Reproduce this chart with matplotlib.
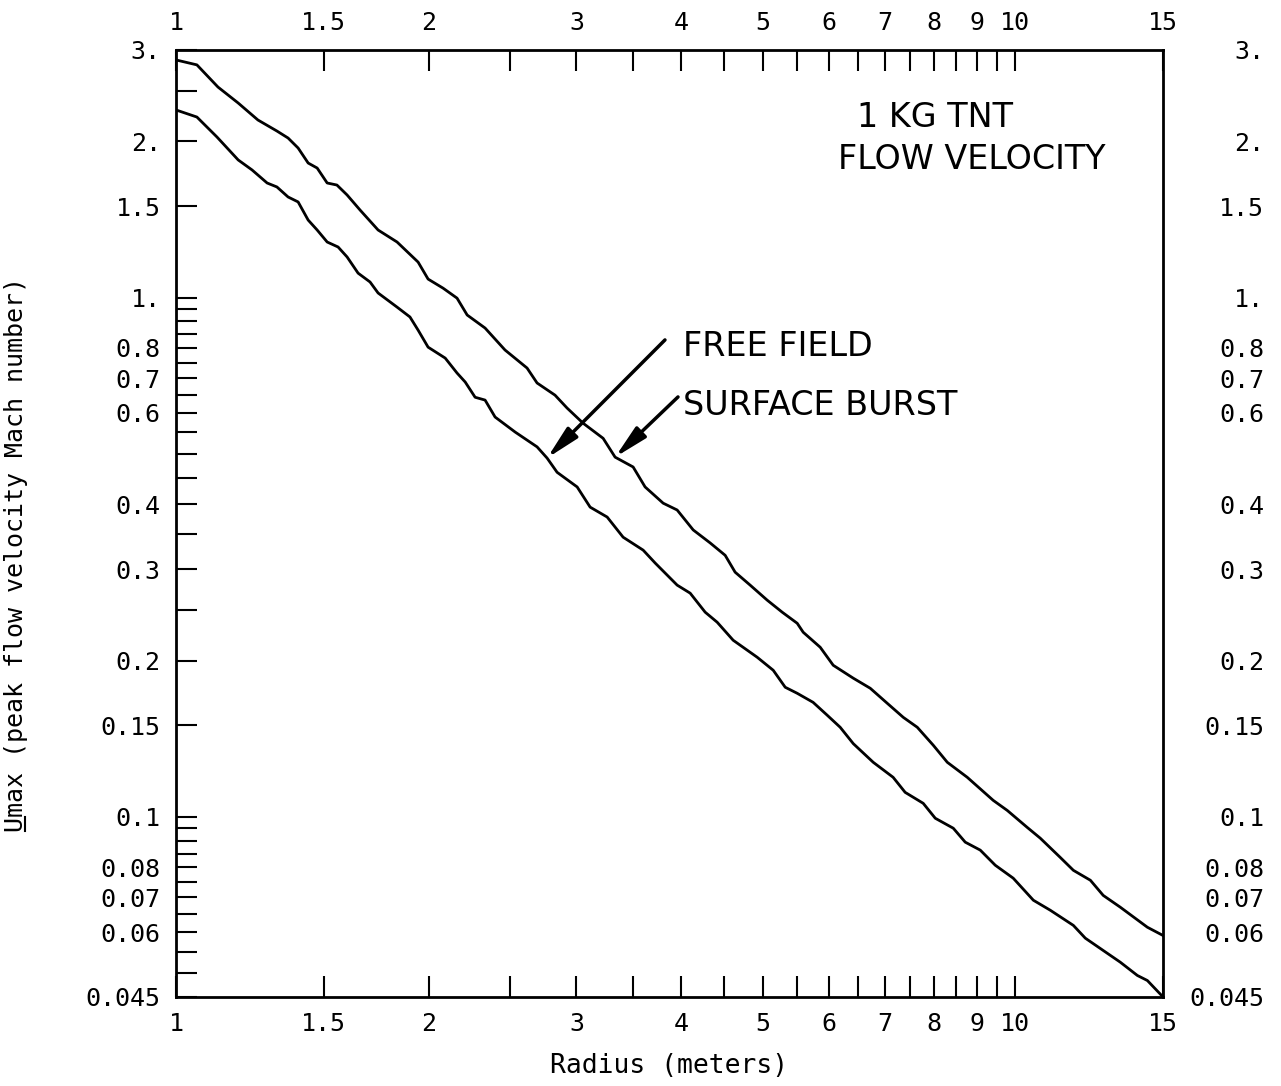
import matplotlib

matplotlib.use("Agg", force=True)
import matplotlib.pyplot as plt
import numpy as np
from matplotlib.lines import Line2D
from matplotlib.ticker import FixedFormatter, FixedLocator, NullLocator

# surface burst (upper curve)
radius_sb = [1.00, 1.059, 1.122, 1.186, 1.252, 1.319, 1.360, 1.398, 1.437, 1.473, 1.514, 1.555,
             1.599, 1.657, 1.741, 1.834, 1.943, 1.997, 2.081, 2.162, 2.223, 2.335, 2.466, 2.620,
             2.693, 2.829, 2.924, 3.056, 3.228, 3.336, 3.505, 3.622, 3.806, 3.955, 4.133, 4.330,
             4.512, 4.637, 4.832, 5.063, 5.276, 5.498, 5.589, 5.856, 6.069, 6.412, 6.718, 7.039,
             7.355, 7.643, 7.986, 8.299, 8.766, 9.414, 9.784, 10.33, 10.71, 11.31, 11.73, 12.29,
             12.73, 13.34, 14.37, 15.0]
umax_sb = [2.87, 2.808, 2.545, 2.371, 2.199, 2.094, 2.030, 1.942, 1.817, 1.777, 1.663, 1.648,
           1.577, 1.475, 1.350, 1.280, 1.171, 1.086, 1.043, 0.998, 0.926, 0.874, 0.793, 0.732,
           0.685, 0.649, 0.613, 0.573, 0.536, 0.493, 0.472, 0.432, 0.402, 0.390, 0.357, 0.337,
           0.319, 0.296, 0.2795, 0.2615, 0.2479, 0.2360, 0.2268, 0.2122, 0.1959, 0.1850, 0.1769,
           0.1655, 0.1555, 0.1488, 0.1374, 0.1274, 0.1192, 0.1076, 0.1029, 0.0955, 0.0910, 0.0836,
           0.0789, 0.0755, 0.0706, 0.0670, 0.0613, 0.0591]

# free field (lower curve)
radius_ff = [1.00, 1.059, 1.119, 1.186, 1.232, 1.284, 1.319, 1.360, 1.398, 1.437, 1.473, 1.514,
             1.560, 1.599, 1.648, 1.703, 1.741, 1.834, 1.900, 1.943, 1.997, 2.093, 2.162, 2.211,
             2.272, 2.335, 2.400, 2.536, 2.693, 2.768, 2.845, 3.006, 3.115, 3.264, 3.410, 3.603,
             3.724, 3.955, 4.099, 4.271, 4.414, 4.612, 4.926, 5.148, 5.320, 5.498, 5.743, 5.969,
             6.186, 6.412, 6.773, 7.153, 7.393, 7.769, 8.030, 8.437, 8.718, 9.085, 9.467, 9.945,
             10.51, 11.01, 11.73, 12.12, 12.73, 13.34, 13.98, 14.37, 15.0]
umax_ff = [2.299, 2.228, 2.039, 1.842, 1.762, 1.663, 1.634, 1.563, 1.529, 1.411, 1.350, 1.280,
           1.252, 1.198, 1.115, 1.072, 1.021, 0.959, 0.918, 0.866, 0.803, 0.765, 0.716, 0.688,
           0.643, 0.635, 0.589, 0.551, 0.516, 0.491, 0.461, 0.432, 0.395, 0.378, 0.3457, 0.3264,
           0.3082, 0.2795, 0.2697, 0.2479, 0.2371, 0.2189, 0.2030, 0.1916, 0.1777, 0.1730, 0.1662,
           0.1570, 0.1488, 0.1384, 0.1274, 0.1192, 0.1115, 0.1062, 0.0994, 0.0951, 0.0894, 0.0863,
           0.0807, 0.0762, 0.0691, 0.0661, 0.0618, 0.0584, 0.0553, 0.0525, 0.0495, 0.0484, 0.045]

x_ticks = [1.0, 1.5, 2.0, 2.5, 3.0, 3.5, 4.0, 4.5, 5.0, 5.5, 6.0, 6.5, 7.0, 7.5, 8.0, 8.5,
           9.0, 9.5, 10.0, 15.0]
x_labels = {1.0: "1", 1.5: "1.5", 2.0: "2", 3.0: "3", 4.0: "4", 5.0: "5", 6.0: "6",
            7.0: "7", 8.0: "8", 9.0: "9", 10.0: "10", 15.0: "15"}
y_ticks = ([round(v, 3) for v in np.arange(0.045, 0.1001, 0.005)]
           + [round(v, 2) for v in np.arange(0.15, 1.0001, 0.05)]
           + [1.5, 2.0, 2.5, 3.0])
y_labels = {3.0: "3.", 2.0: "2.", 1.5: "1.5", 1.0: "1.", 0.8: "0.8", 0.7: "0.7", 0.6: "0.6",
            0.4: "0.4", 0.3: "0.3", 0.2: "0.2", 0.15: "0.15", 0.1: "0.1", 0.08: "0.08",
            0.07: "0.07", 0.06: "0.06", 0.045: "0.045"}

MONO = "DejaVu Sans Mono"
TICK_SIZE = 18

fig = plt.figure(figsize=(12.81, 10.86), dpi=100)
ax = fig.add_axes([0.1374, 0.0820, 0.7705, 0.8720])
ax.set_xscale("log")
ax.set_yscale("log")

ax.plot(radius_sb, umax_sb, color="black", lw=2.0, solid_joinstyle="round")
ax.plot(radius_ff, umax_ff, color="black", lw=2.0, solid_joinstyle="round")

ax.set_xlim(1.0, 15.0)
ax.set_ylim(0.045, 3.0)

for spine in ax.spines.values():
    spine.set_linewidth(2.0)

ax.xaxis.set_major_locator(FixedLocator(x_ticks))
ax.xaxis.set_major_formatter(FixedFormatter([x_labels.get(t, "") for t in x_ticks]))
ax.xaxis.set_minor_locator(NullLocator())
ax.yaxis.set_major_locator(FixedLocator(y_ticks))
ax.yaxis.set_major_formatter(FixedFormatter([y_labels.get(t, "") for t in y_ticks]))
ax.yaxis.set_minor_locator(NullLocator())

ax.tick_params(axis="both", which="major", direction="in", length=15, width=1.5,
               top=True, right=True, labeltop=True, labelbottom=True, labelsize=TICK_SIZE)
ax.tick_params(axis="x", pad=11)
ax.tick_params(axis="y", pad=11)
for lab in ax.get_xticklabels() + ax.get_yticklabels():
    lab.set_family(MONO)

# right side labels, right aligned like the original plotter output
ax_r = ax.twinx()
ax_r.set_yscale("log")
ax_r.set_ylim(ax.get_ylim())
ax_r.yaxis.set_major_locator(FixedLocator(y_ticks))
ax_r.yaxis.set_major_formatter(FixedFormatter([y_labels.get(t, "") for t in y_ticks]))
ax_r.yaxis.set_minor_locator(NullLocator())
ax_r.tick_params(axis="y", which="major", direction="in", length=0, pad=73,
                 labelsize=TICK_SIZE)
for lab in ax_r.get_yticklabels():
    lab.set_family(MONO)
    lab.set_horizontalalignment("right")
for spine in ax_r.spines.values():
    spine.set_visible(False)

ax.set_xlabel("Radius (meters)", family=MONO, fontsize=19, labelpad=12)
ylab_size = 18
ylab = ax.set_ylabel("Umax (peak flow velocity Mach number)", family=MONO, fontsize=ylab_size)
ax.yaxis.set_label_coords(-0.150, 0.467)

# annotations
note_kw = dict(transform=ax.transAxes, va="center", fontsize=24)
ax.text(0.769, 0.929, "1 KG TNT", ha="center", **note_kw)
ax.text(0.806, 0.884, "FLOW VELOCITY", ha="center", **note_kw)
ax.text(0.514, 0.687, "FREE FIELD", ha="left", **note_kw)
ax.text(0.514, 0.625, "SURFACE BURST", ha="left", **note_kw)

arrow = dict(arrowstyle="-|>,head_length=1.0,head_width=0.22", color="black", lw=2.5,
             shrinkA=0, shrinkB=0, mutation_scale=20)
ax.annotate("", xy=(radius_ff[29], umax_ff[29]), xycoords="data",
            xytext=(0.4954, 0.6938), textcoords="axes fraction", arrowprops=arrow)
ax.annotate("", xy=(radius_sb[29], umax_sb[29]), xycoords="data",
            xytext=(0.5086, 0.6336), textcoords="axes fraction", arrowprops=arrow)

# underline the "U" of the rotated y label
fig.canvas.draw()
bb = ylab.get_window_extent()
em = ylab_size * fig.dpi / 72.0
x_u = bb.x1 - 0.10 * em
p0 = fig.transFigure.inverted().transform((x_u, bb.y0 + 0.05 * em))
p1 = fig.transFigure.inverted().transform((x_u, bb.y0 + 0.60 * em))
fig.add_artist(Line2D([p0[0], p1[0]], [p0[1], p1[1]], transform=fig.transFigure,
                      color="black", lw=1.5))

fig.savefig("out.png", dpi=100)
plt.close(fig)
